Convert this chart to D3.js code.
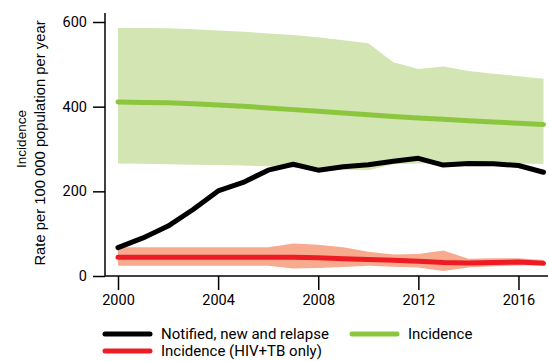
<!DOCTYPE html>
<html><head><meta charset="utf-8">
<script src="https://cdn.jsdelivr.net/npm/d3@7"></script>
<style>body{margin:0;background:#fff}svg{display:block}</style>
</head><body>
<svg id="c" width="549" height="361"></svg>
<script>
const years = [2000,2001,2002,2003,2004,2005,2006,2007,2008,2009,2010,2011,2012,2013,2014,2015,2016,2017];
const notified = [67,90,118,157,201,221,250,264,250,258,263,271,278,262,266,265,261,245];
const incidence = [411,410,409,407,404,401,397,393,389,385,381,377,373,370,367,364,361,358];
const incLo = [266,265,264,263,262,261,259,256,253,251,250,264,266,266,265,265,265,265];
const incHi = [586,586,585,583,580,577,573,569,564,557,550,505,489,495,484,478,472,466];
const hiv = [44,44,44,44,44,44,44,44,43,41,39,37,35,32,31,32,33,30];
const hivLo = [24,24,24,24,24,24,24,18,19,21,24,22,20,12,20,23,25,26];
const hivHi = [68,68,68,68,68,68,68,77,74,68,57,51,52,60,41,42,42,38];
const yTicks = [0,200,400,600];
const xTicks = [2000,2004,2008,2012,2016];
const legendItems = ["Notified, new and relapse","Incidence","Incidence (HIV+TB only)"];

const svg = d3.select("#c");
const x = d3.scaleLinear().domain([2000,2017]).range([118,543.5]);
const y = d3.scaleLinear().domain([0,600]).range([276,22]);
const font = "Roboto, 'DejaVu Sans', sans-serif";

const area = (lo,hi)=>d3.area().x((d,i)=>x(years[i])).y0((d,i)=>y(lo[i])).y1((d,i)=>y(hi[i]));
const line = arr=>d3.line().x((d,i)=>x(years[i])).y((d,i)=>y(arr[i]));

svg.append("path").datum(years).attr("d",area(incLo,incHi)).attr("fill","#d2e5b3");
svg.append("path").datum(years).attr("d",area(hivLo,hivHi)).attr("fill","#f8aa8e");
svg.append("path").datum(years).attr("d",line(incidence)).attr("fill","none").attr("stroke","#8cc63f").attr("stroke-width",5).attr("stroke-linecap","round");
svg.append("path").datum(years).attr("d",line(hiv)).attr("fill","none").attr("stroke","#ed1c24").attr("stroke-width",5).attr("stroke-linecap","round");
svg.append("path").datum(years).attr("d",line(notified)).attr("fill","none").attr("stroke","#000").attr("stroke-width",5).attr("stroke-linecap","round").attr("stroke-linejoin","round");

// axes
const xAxis = svg.append("g").attr("transform","translate(0,276)")
  .call(d3.axisBottom(x).tickValues(xTicks).tickFormat(d3.format("d")).tickSize(14).tickSizeOuter(0));
xAxis.select(".domain").attr("d","M105,0H548");
const yAxis = svg.append("g").attr("transform","translate(105,0)")
  .call(d3.axisLeft(y).tickValues(yTicks).tickSize(12).tickSizeOuter(0));
yAxis.select(".domain").attr("d","M0,13V276");
svg.selectAll(".domain").attr("stroke","#000").attr("stroke-width",1.5);
svg.selectAll(".tick line").attr("stroke","#000").attr("stroke-width",1.5);
svg.selectAll(".tick text").attr("font-family",font).attr("font-size",14.5).attr("fill","#000");
xAxis.selectAll(".tick text").attr("y",19).attr("dy","0.71em");
yAxis.selectAll(".tick text").attr("x",-18);

// y title
const t = svg.append("text").attr("transform","translate(26,143) rotate(-90)")
  .attr("text-anchor","middle").attr("font-family","'Liberation Sans', Arial, sans-serif").attr("fill","#000");
t.append("tspan").attr("x",4).attr("y",0).attr("font-size",13.5).text("Incidence");
t.append("tspan").attr("x",0).attr("y",19).attr("font-size",14.8).text("Rate per 100 000 population per year");

// legend
const leg = [
  {t:legendItems[0], c:"#000", x:103, y:334},
  {t:legendItems[1], c:"#8cc63f", x:350, y:334},
  {t:legendItems[2], c:"#ed1c24", x:103, y:351}
];
const lg = svg.append("g").selectAll("g").data(leg).join("g");
lg.append("line").attr("x1",d=>d.x+2).attr("x2",d=>d.x+47).attr("y1",d=>d.y).attr("y2",d=>d.y)
  .attr("stroke",d=>d.c).attr("stroke-width",5).attr("stroke-linecap","round");
lg.append("text").attr("x",d=>d.x+58).attr("y",d=>d.y).attr("dy","0.35em")
  .attr("font-family",font).attr("font-size",15).attr("fill","#000").text(d=>d.t);
</script>
</body></html>
